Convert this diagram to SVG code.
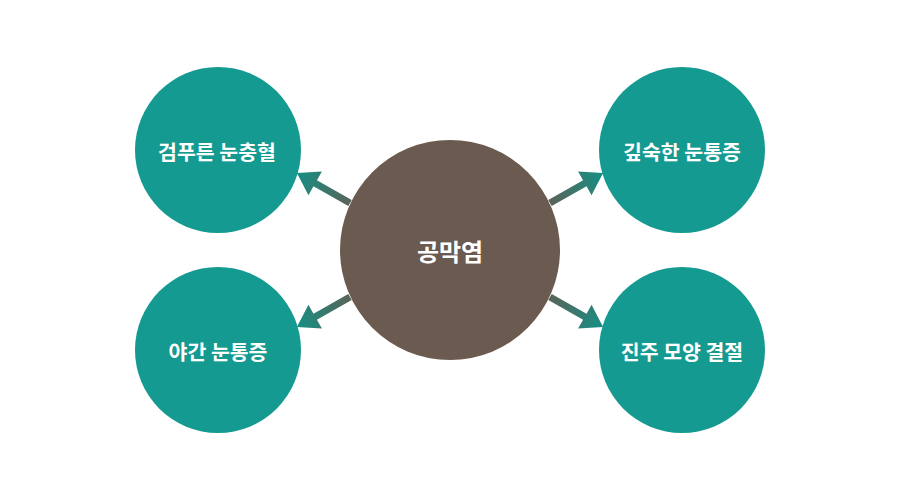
<svg xmlns="http://www.w3.org/2000/svg" width="900" height="500" viewBox="0 0 900 500">
<defs>
<linearGradient id="g" x1="0" y1="0" x2="1" y2="0">
<stop offset="0" stop-color="#5a6358"/>
<stop offset="1" stop-color="#158f85"/>
</linearGradient>
<path id="arr" d="M0,-3.5 L40,-3.5 L40,-13.7 L61,0 L40,13.7 L40,3.5 L0,3.5 Z"/>
</defs>
<style>
.n{fill:#149a90}
.c{fill:#6b5a4f}
.t{fill:#fff;font-family:"Noto Sans CJK KR","Noto Sans",sans-serif;font-weight:700;text-anchor:middle;dominant-baseline:central}
.o{font-size:20.5px}
.m{font-size:24px}
.a{fill:url(#g)}
</style>
<rect width="900" height="500" fill="#fff"/>
<g id="connectors">
<use href="#arr" class="a" transform="translate(350,203) rotate(209.5)"/>
<use href="#arr" class="a" transform="translate(550,203) rotate(-29.5)"/>
<use href="#arr" class="a" transform="translate(350,297) rotate(150.5)"/>
<use href="#arr" class="a" transform="translate(550,297) rotate(29.5)"/>
</g>
<g id="n1"><circle class="n" cx="218" cy="150" r="83"/><text class="t o" x="217" y="151">검푸른 눈충혈</text></g>
<g id="n2"><circle class="n" cx="682" cy="150" r="83"/><text class="t o" x="682" y="151">깊숙한 눈통증</text></g>
<g id="n3"><circle class="n" cx="218" cy="350" r="83"/><text class="t o" x="218" y="351">야간 눈통증</text></g>
<g id="n4"><circle class="n" cx="682" cy="350" r="83"/><text class="t o" x="682" y="351">진주 모양 결절</text></g>
<g id="center"><circle class="c" cx="450" cy="250" r="110"/><text class="t m" x="450" y="250">공막염</text></g>
</svg>
